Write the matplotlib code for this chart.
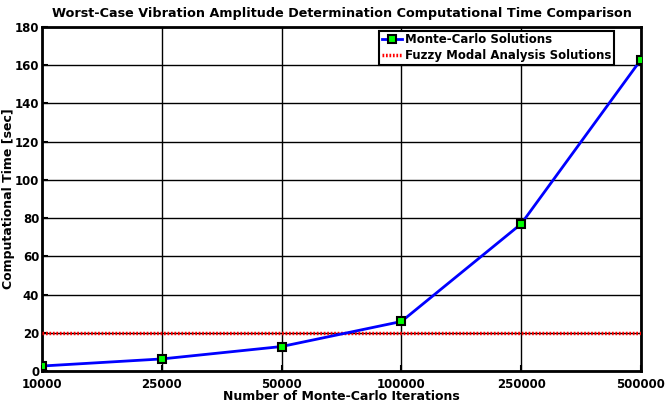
import matplotlib.pyplot as plt
import numpy as np

iterations = ['10000', '25000', '50000', '100000', '250000', '500000']
mc_time = [2.6, 6.3, 12.8, 25.9, 77.0, 163.0]
fuzzy_time = 20.0

plt.rcParams['font.family'] = 'DejaVu Sans'
plt.rcParams['font.weight'] = 'bold'

fig = plt.figure(figsize=(6.7, 4.07), dpi=100)
ax = fig.add_axes([0.0627, 0.0885, 0.894, 0.845])

x = np.arange(len(iterations))
ax.plot(x, mc_time, color='blue', lw=2, marker='s', markersize=6,
        markerfacecolor='#00ff00', markeredgecolor='black', markeredgewidth=1.5,
        label='Monte-Carlo Solutions', zorder=4)
ax.axhline(fuzzy_time, color='red', lw=2.5, ls=(0, (0.5, 0.5)),
           label='Fuzzy Modal Analysis Solutions', zorder=3)

ax.set_xlim(0, len(iterations) - 1)
ax.set_ylim(0, 180)
ax.set_xticks(x)
ax.set_xticklabels(iterations)
ax.set_yticks(np.arange(0, 181, 20))
ax.tick_params(labelsize=8.5, direction='in', width=1.5, length=4)
ax.tick_params(axis='y', pad=2)
ax.tick_params(axis='x', pad=5)
ax.grid(True, color='black', lw=1)
for s in ax.spines.values():
    s.set_linewidth(2)

ax.set_title('Worst-Case Vibration Amplitude Determination Computational Time Comparison',
             fontsize=9.2, fontweight='bold', pad=7)
ax.set_xlabel('Number of Monte-Carlo Iterations', fontsize=9, fontweight='bold', labelpad=-1)
ax.set_ylabel('Computational Time [sec]', fontsize=9, fontweight='bold')
ax.yaxis.set_label_coords(-0.045, 0.5)

leg = ax.legend(loc='upper right', bbox_to_anchor=(0.955, 0.99), fontsize=8.5,
                handlelength=1.7, handletextpad=0.2, borderpad=0.25, labelspacing=0.2,
                fancybox=False, framealpha=1, edgecolor='black', borderaxespad=0)
leg.get_frame().set_linewidth(1.5)

fig.savefig('out.png', dpi=100)
